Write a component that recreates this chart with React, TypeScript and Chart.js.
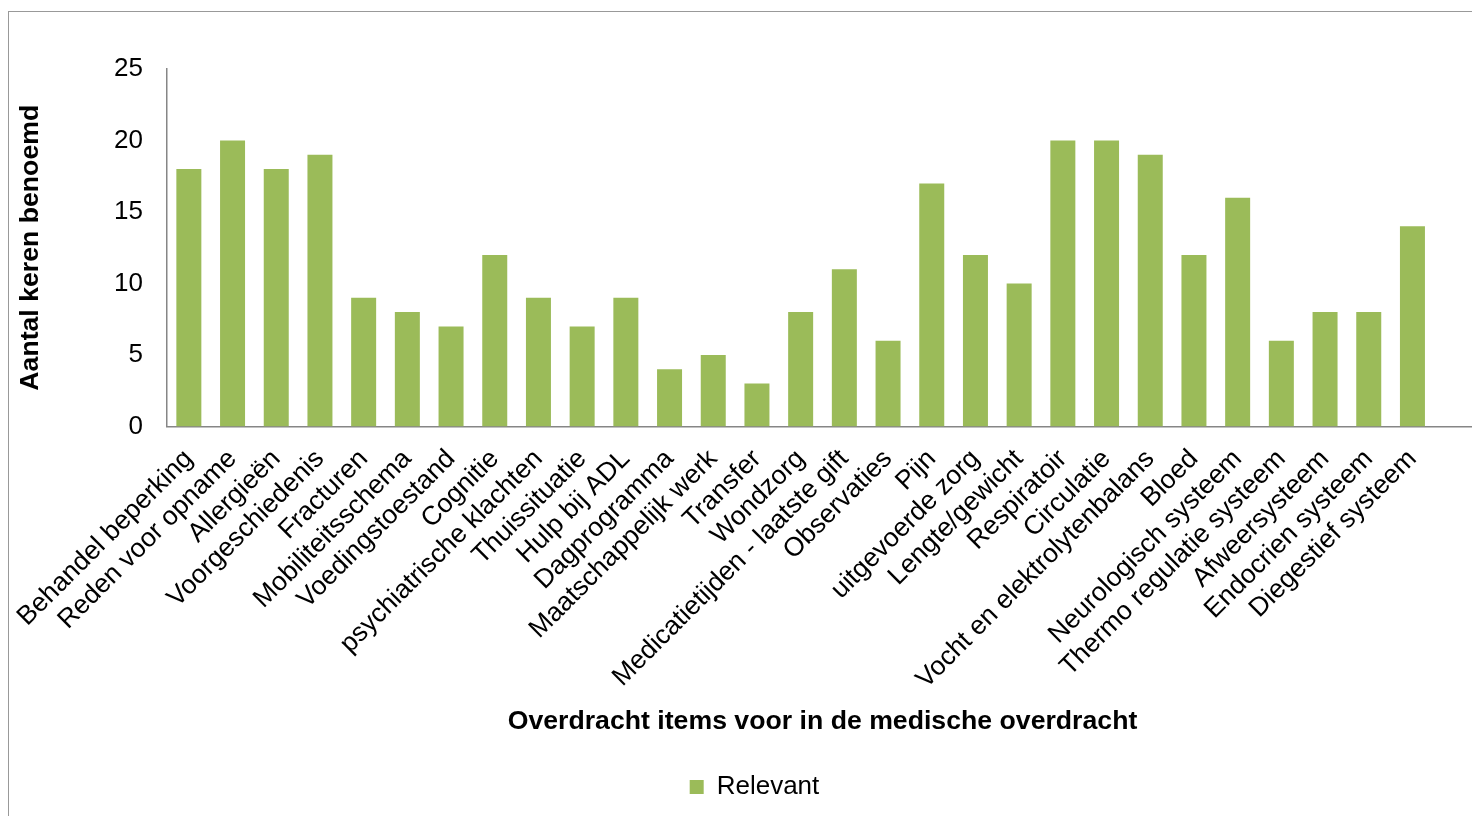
import React, { useEffect, useRef } from "react";
import { Chart, registerables } from "chart.js";

Chart.register(...registerables);

const categories: string[] = [
  "Behandel beperking",
  "Reden voor opname",
  "Allergieën",
  "Voorgeschiedenis",
  "Fracturen",
  "Mobiliteitsschema",
  "Voedingstoestand",
  "Cognitie",
  "psychiatrische klachten",
  "Thuissituatie",
  "Hulp bij ADL",
  "Dagprogramma",
  "Maatschappelijk werk",
  "Transfer",
  "Wondzorg",
  "Medicatietijden - laatste gift",
  "Observaties",
  "Pijn",
  "uitgevoerde zorg",
  "Lengte/gewicht",
  "Respiratoir",
  "Circulatie",
  "Vocht en elektrolytenbalans",
  "Bloed",
  "Neurologisch systeem",
  "Thermo regulatie systeem",
  "Afweersysteem",
  "Endocrien systeem",
  "Diegestief systeem",
  "",
];

const relevant: (number | null)[] = [
  18, 20, 18, 19, 9, 8, 7, 12, 9, 7, 9, 4, 5, 3, 8, 11, 6, 17, 12, 10, 20, 20, 19, 12, 16, 6, 8, 8, 14, null,
];

const yMin = 0;
const yMax = 25;
const yStep = 5;

const seriesLabel = "Relevant";
const xTitle = "Overdracht items voor in de medische overdracht";
const yTitle = "Aantal keren benoemd";

const FONT = "'Liberation Sans', Arial, Helvetica, sans-serif";

export default function App() {
  const ref = useRef<HTMLCanvasElement>(null);

  useEffect(() => {
    const canvas = ref.current;
    if (!canvas) return;
    const chart = new Chart(canvas, {
      type: "bar",
      data: {
        labels: categories,
        datasets: [
          {
            label: seriesLabel,
            data: relevant,
            backgroundColor: "#9BBB59",
            borderWidth: 0,
            barPercentage: 0.572,
            categoryPercentage: 1,
          },
        ],
      },
      options: {
        responsive: false,
        animation: false,
        layout: { padding: { left: 22, right: 0, top: 57, bottom: 9 } },
        plugins: {
          legend: {
            position: "bottom",
            labels: {
              boxWidth: 14,
              boxHeight: 14,
              color: "#000",
              font: { family: FONT, size: 26 },
            },
          },
          tooltip: { enabled: false },
        },
        scales: {
          x: {
            grid: { display: false, drawTicks: false },
            border: { display: true, color: "#868686", width: 1.5 },
            ticks: {
              autoSkip: false,
              minRotation: 45,
              maxRotation: 45,
              padding: 17,
              color: "#000",
              font: { family: FONT, size: 26.5 },
            },
            title: {
              display: true,
              text: xTitle,
              color: "#000",
              padding: { top: 4, bottom: 26 },
              font: { family: FONT, size: 26.67, weight: "bold" },
            },
            afterFit: (s: any) => {
              s.height = 337.5;
              s.paddingLeft = 0;
              s.paddingRight = 0;
            },
          },
          y: {
            min: yMin,
            max: yMax,
            grid: { display: false, drawTicks: false },
            border: { display: true, color: "#868686", width: 1.5 },
            ticks: {
              stepSize: yStep,
              padding: 24,
              color: "#000",
              font: { family: FONT, size: 26 },
            },
            title: {
              display: true,
              text: yTitle,
              color: "#000",
              padding: { top: -16, bottom: 0 },
              font: { family: FONT, size: 26.67, weight: "bold" },
            },
            afterFit: (s: any) => {
              s.width = 136;
              s.paddingTop = 0;
              s.paddingBottom = 0;
            },
          },
        },
      },
    });
    return () => chart.destroy();
  }, []);

  return (
    <div
      style={{
        position: "relative",
        top: 3,
        width: 1472,
        height: 808,
        borderLeft: "1.5px solid #999",
        borderTop: "1.5px solid #999",
        boxSizing: "border-box",
        overflow: "hidden",
      }}
    >
      <canvas ref={ref} width={1469} height={807} style={{ display: "block", width: 1469, height: 807 }} />
    </div>
  );
}
